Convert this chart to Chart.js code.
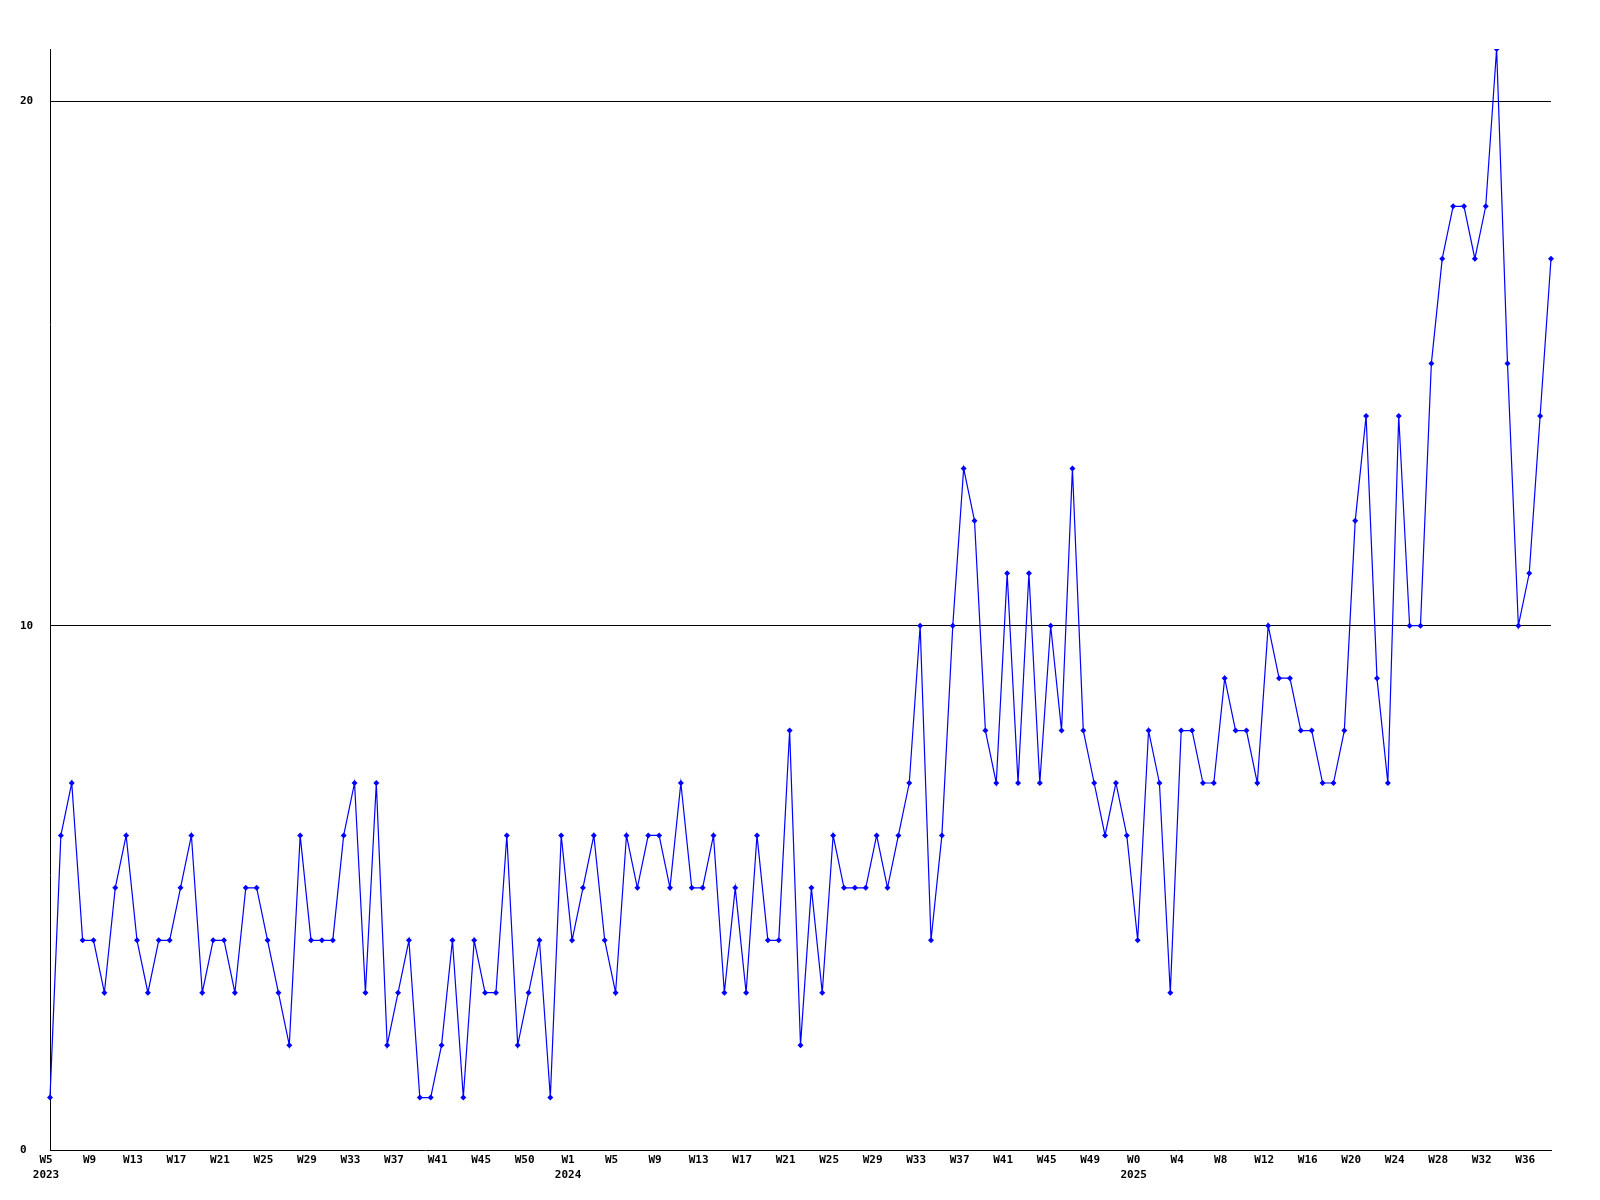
<!DOCTYPE html>
<html>
<head>
<meta charset="utf-8">
<script src="https://cdn.jsdelivr.net/npm/chart.js@4.4.1/dist/chart.umd.min.js"></script>
<style>
  html, body { margin: 0; padding: 0; background: #fff; }
  #wrap { width: 1600px; height: 1200px; }
</style>
</head>
<body>
<div id="wrap"><canvas id="weekChart" width="1600" height="1200"></canvas></div>
<script>
// weekly counts, one per week starting at W5 2023
const counts = [
  1, 6, 7, 4, 4, 3, 5, 6, 4, 3,
  4, 4, 5, 6, 3, 4, 4, 3, 5, 5,
  4, 3, 2, 6, 4, 4, 4, 6, 7, 3,
  7, 2, 3, 4, 1, 1, 2, 4, 1, 4,
  3, 3, 6, 2, 3, 4, 1, 6, 4, 5,
  6, 4, 3, 6, 5, 6, 6, 5, 7, 5,
  5, 6, 3, 5, 3, 6, 4, 4, 8, 2,
  5, 3, 6, 5, 5, 5, 6, 5, 6, 7,
  10, 4, 6, 10, 13, 12, 8, 7, 11, 7,
  11, 7, 10, 8, 13, 8, 7, 6, 7, 6,
  4, 8, 7, 3, 8, 8, 7, 7, 9, 8,
  8, 7, 10, 9, 9, 8, 8, 7, 7, 8,
  12, 14, 9, 7, 14, 10, 10, 15, 17, 18,
  18, 17, 18, 21, 15, 10, 11, 14, 17
];

// axis labels shown every 4th week
const weekTicks = [
  'W5', 'W9', 'W13', 'W17', 'W21', 'W25', 'W29', 'W33', 'W37', 'W41', 'W45', 'W50',
  'W1', 'W5', 'W9', 'W13', 'W17', 'W21', 'W25', 'W29', 'W33', 'W37', 'W41', 'W45', 'W49',
  'W0', 'W4', 'W8', 'W12', 'W16', 'W20', 'W24', 'W28', 'W32', 'W36'
];
const tickEvery = 4;
const yearNames = ['2023', '2024', '2025'];
const yearStartIdx = [0, 48, 100];

const yTicks = [0, 10, 20];
const yMax = 21;

// build the category labels from the arrays above
const labels = counts.map((v, i) => {
  if (i % tickEvery !== 0) return '';
  const w = weekTicks[i / tickEvery] || '';
  const y = yearStartIdx.indexOf(i);
  return y >= 0 ? [w, yearNames[y]] : w;
});

const tickFont = { family: "'DejaVu Sans Mono', 'Liberation Mono', monospace", size: 11, weight: 'bold', lineHeight: 1.36 };

const ctx = document.getElementById('weekChart').getContext('2d');
window.weekChart = new Chart(ctx, {
  type: 'line',
  data: {
    labels: labels,
    datasets: [{
      data: counts,
      borderColor: '#0000ff',
      backgroundColor: '#0000ff',
      borderWidth: 1.2,
      tension: 0,
      fill: false,
      pointStyle: 'rectRot',
      pointRadius: 3,
      pointBorderWidth: 0,
      pointBackgroundColor: '#0000ff'
    }]
  },
  options: {
    responsive: false,
    animation: false,
    layout: { padding: { left: 20, right: 49, top: 49, bottom: 0 } },
    plugins: {
      legend: { display: false },
      tooltip: { enabled: false }
    },
    scales: {
      x: {
        type: 'category',
        offset: false,
        grid: { display: false, drawTicks: false },
        border: { display: true, color: '#000', width: 1 },
        ticks: {
          autoSkip: false,
          maxRotation: 0,
          minRotation: 0,
          padding: 3,
          labelOffset: -4,
          color: '#000',
          font: tickFont
        },
        afterFit: (s) => { s.height = 50; }
      },
      y: {
        min: 0,
        max: yMax,
        grid: {
          drawTicks: false,
          lineWidth: 1,
          color: (c) => (c.tick && yTicks.includes(c.tick.value) && c.tick.value !== 0) ? '#000' : 'rgba(0,0,0,0)'
        },
        border: { display: true, color: '#000', width: 1 },
        ticks: {
          stepSize: 10,
          includeBounds: false,
          crossAlign: 'far',
          padding: 0,
          color: '#000',
          font: tickFont,
          callback: (v) => yTicks.includes(v) ? String(v) : ''
        },
        afterFit: (s) => { s.width = 30; }
      }
    }
  }
});
</script>
</body>
</html>
